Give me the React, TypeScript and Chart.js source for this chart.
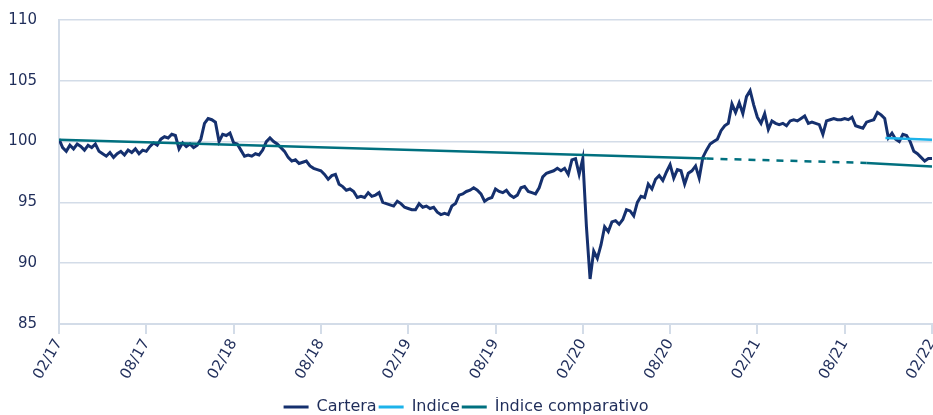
import React, { useEffect, useRef } from "react";
import { Chart, registerables } from "chart.js";

Chart.register(...registerables);

// x tick labels, one every 6 months starting 02/2017
const xTickLabels = ["02/17", "08/17", "02/18", "08/18", "02/19", "08/19", "02/20", "08/20", "02/21", "08/21", "02/22"];

// Cartera: one value per quarter-month from 02/17 to 02/22
const cartera = [
  100.2, 99.5, 99.2, 99.7,
  99.4, 99.8, 99.6, 99.3,
  99.7, 99.5, 99.8, 99.2,
  99.0, 98.8, 99.1, 98.7,
  99.0, 99.2, 98.9, 99.3,
  99.1, 99.4, 99.0, 99.3,
  99.2, 99.6, 99.9, 99.7,
  100.2, 100.4, 100.3, 100.6,
  100.5, 99.4, 99.9, 99.6,
  99.8, 99.5, 99.7, 100.2,
  101.5, 101.9, 101.8, 101.6,
  100.0, 100.6, 100.5, 100.7,
  99.9, 99.8, 99.3, 98.8,
  98.9, 98.8, 99.0, 98.9,
  99.3, 100.0, 100.3, 100.0,
  99.8, 99.5, 99.2, 98.7,
  98.4, 98.5, 98.2, 98.3,
  98.4, 98.0, 97.8, 97.7,
  97.6, 97.3, 96.9, 97.2,
  97.3, 96.5, 96.3, 96.0,
  96.1, 95.9, 95.4, 95.5,
  95.4, 95.8, 95.5, 95.6,
  95.8, 95.0, 94.9, 94.8,
  94.7, 95.1, 94.9, 94.6,
  94.5, 94.4, 94.4, 94.9,
  94.6, 94.7, 94.5, 94.6,
  94.2, 94.0, 94.1, 94.0,
  94.7, 94.9, 95.6, 95.7,
  95.9, 96.0, 96.2, 96.0,
  95.7, 95.1, 95.3, 95.4,
  96.1, 95.9, 95.8, 96.0,
  95.6, 95.4, 95.6, 96.2,
  96.3, 95.9, 95.8, 95.7,
  96.2, 97.1, 97.4, 97.5,
  97.6, 97.8, 97.6, 97.8,
  97.3, 98.5, 98.6, 97.3,
  98.6, 93.0, 88.7, 91.0,
  90.4, 91.5, 93.0, 92.6,
  93.4, 93.5, 93.2, 93.6,
  94.4, 94.3, 93.9, 95.0,
  95.5, 95.4, 96.5, 96.1,
  96.9, 97.2, 96.8, 97.5,
  98.1, 97.0, 97.7, 97.6,
  96.5, 97.4, 97.6, 98.0,
  97.0, 98.7, 99.3, 99.8,
  100.0, 100.2, 100.9, 101.3,
  101.5, 103.1, 102.4, 103.2,
  102.3, 103.7, 104.2, 103.0,
  102.0, 101.5, 102.3, 101.0,
  101.7, 101.5, 101.4, 101.5,
  101.3, 101.7, 101.8, 101.7,
  101.9, 102.1, 101.5, 101.6,
  101.5, 101.4, 100.6, 101.7,
  101.8, 101.9, 101.8, 101.8,
  101.9, 101.8, 102.0, 101.3,
  101.2, 101.1, 101.6, 101.7,
  101.8, 102.4, 102.2, 101.9,
  100.3, 100.7, 100.2, 100.0,
  100.6, 100.5, 100.0, 99.2,
  99.0, 98.7, 98.4, 98.6,
  98.6,
];

// Indice: short series at the end (months since 02/17)
const indiceMonths = [56.8, 60];
const indice = [100.3, 100.15];

// Índice comparativo
const comparativoMonths = [0, 44.5, 55.5, 60];
const comparativo = [100.15, 98.6, 98.25, 97.95];

const TEXT = "#1f2d5a";
const GRID = "#d3dce8";

export default function App() {
  const ref = useRef<HTMLCanvasElement>(null);

  useEffect(() => {
    document.body.style.margin = "0";
    const ctx = ref.current!;
    const chart = new Chart(ctx, {
      type: "line",
      data: {
        datasets: [
          {
            label: "Cartera",
            data: cartera.map((v, i) => ({ x: i * 0.25, y: v })),
            borderColor: "#15306e",
            backgroundColor: "#15306e",
            borderWidth: 3,
            pointRadius: 0,
            tension: 0,
            order: 3,
          },
          {
            label: "Indice",
            data: indice.map((v, i) => ({ x: indiceMonths[i], y: v })),
            borderColor: "#1db3ea",
            backgroundColor: "#1db3ea",
            borderWidth: 2.5,
            pointRadius: 0,
            order: 1,
          },
          {
            label: "Índice comparativo",
            data: comparativo.map((v, i) => ({ x: comparativoMonths[i], y: v })),
            borderColor: "#00707f",
            backgroundColor: "#00707f",
            borderWidth: 2.5,
            pointRadius: 0,
            order: 2,
            segment: {
              borderDash: (c: any) => (c.p0DataIndex === 1 ? [7, 7] : undefined),
            },
          },
        ],
      },
      options: {
        animation: false,
        responsive: false,
        maintainAspectRatio: false,
        layout: { padding: { left: 0, right: 1, top: 20, bottom: -10 } },
        plugins: {
          tooltip: { enabled: false },
          legend: {
            position: "bottom",
            labels: {
              color: TEXT,
              font: { family: "DejaVu Sans", size: 16 },
              boxWidth: 25,
              boxHeight: 3,
              padding: 2,
              generateLabels: (ch: any) =>
                Chart.defaults.plugins.legend.labels
                  .generateLabels(ch)
                  .map((l: any) => ({ ...l, lineWidth: 0 }))
                  .sort((a: any, b: any) => a.datasetIndex - b.datasetIndex),
            },
          },
        },
        scales: {
          x: {
            type: "linear",
            min: 0,
            max: 60,
            border: { color: GRID, width: 2 },
            grid: { drawOnChartArea: false, drawTicks: true, tickLength: 10, color: GRID, lineWidth: 2 },
            ticks: {
              stepSize: 6,
              color: TEXT,
              font: { family: "DejaVu Sans", size: 15 },
              minRotation: 60,
              maxRotation: 60,
              padding: 2,
              callback: (v: any) => xTickLabels[Math.round(Number(v) / 6)] ?? "",
            },
            afterFit: (s: any) => {
              s.paddingLeft = 0;
              s.paddingRight = 0;
              s.height = 73;
            },
          },
          y: {
            min: 85,
            max: 110,
            border: { color: GRID, width: 2 },
            grid: { color: GRID, lineWidth: 1.5, drawTicks: false },
            ticks: {
              stepSize: 5,
              color: TEXT,
              font: { family: "DejaVu Sans", size: 15 },
              padding: 22,
            },
            afterFit: (s: any) => {
              s.width = 59;
              s.paddingTop = 0;
              s.paddingBottom = 0;
            },
          },
        },
      },
    });
    return () => chart.destroy();
  }, []);

  return <canvas ref={ref} width={933} height={415} style={{ display: "block" }} />;
}
